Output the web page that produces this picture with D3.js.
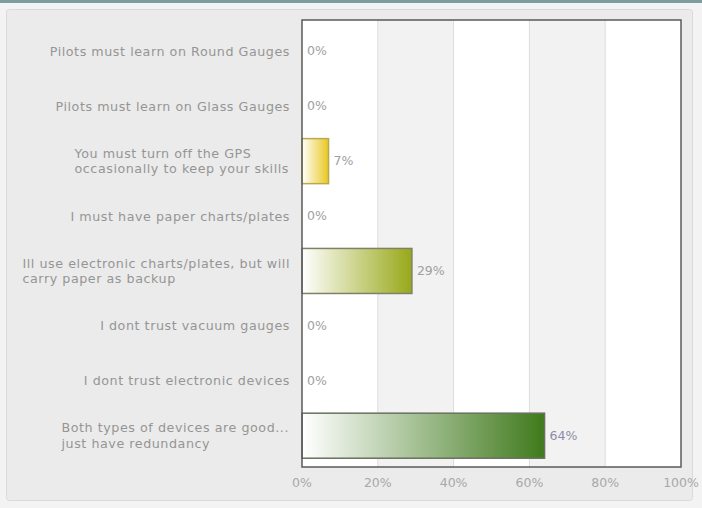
<!DOCTYPE html>
<html><head><meta charset="utf-8">
<script src="https://cdn.jsdelivr.net/npm/d3@7"></script>
<style>body{margin:0;background:#f4f4f4;}svg{display:block;}</style>
</head><body>
<svg id="c" width="702" height="508"></svg>
<script>
const categories = [
  ["Pilots must learn on Round Gauges"],
  ["Pilots must learn on Glass Gauges"],
  ["You must turn off the GPS", "occasionally to keep your skills"],
  ["I must have paper charts/plates"],
  ["Ill use electronic charts/plates, but will", "carry paper as backup"],
  ["I dont trust vacuum gauges"],
  ["I dont trust electronic devices"],
  ["Both types of devices are good...", "just have redundancy"]
];
const values = [0, 0, 7, 0, 29, 0, 0, 64];
const barColors = ["#e8c020", "#e8c020", "#e8c820", "#e8c020", "#98a818", "#98a818", "#98a818", "#3f7a1c"];
const barStrokes = ["#b0a050", "#b0a050", "#b8a850", "#b0a050", "#80806a", "#80806a", "#80806a", "#6a7060"];
const tickValues = [0, 20, 40, 60, 80, 100];

const svg = d3.select("#c");
const font = "DejaVu Sans, Verdana, sans-serif";

// background frame
svg.append("rect").attr("x",0).attr("y",0).attr("width",702).attr("height",508).attr("fill","#f3f3f3");
svg.append("rect").attr("x",0).attr("y",0).attr("width",702).attr("height",3).attr("fill","#7d9e9e");
svg.append("rect").attr("x",6.5).attr("y",9.5).attr("width",686).attr("height",491).attr("rx",3)
  .attr("fill","#ebebeb").attr("stroke","#dadada");

const L = 302, R = 681, T = 20, B = 467;
const x = d3.scaleLinear().domain([0,100]).range([L,R]);
const y = d3.scaleBand().domain(d3.range(categories.length)).range([T,B]).paddingInner(0.18).paddingOuter(0.16);

// plot background with alternating bands
svg.append("rect").attr("x",L).attr("y",T).attr("width",R-L).attr("height",B-T).attr("fill","#ffffff");
svg.selectAll(".band").data(d3.pairs(tickValues).filter((d,i)=>i%2===1)).enter().append("rect")
  .attr("x",d=>x(d[0])).attr("y",T).attr("width",d=>x(d[1])-x(d[0])).attr("height",B-T).attr("fill","#f2f2f2");
svg.selectAll(".grid").data(tickValues.slice(1,-1)).enter().append("line")
  .attr("x1",d=>x(d)).attr("x2",d=>x(d)).attr("y1",T).attr("y2",B).attr("stroke","#dcdcdc");

// gradients
const defs = svg.append("defs");
values.forEach((v,i)=>{
  const g = defs.append("linearGradient").attr("id","g"+i).attr("x1","0%").attr("x2","100%").attr("y1","0%").attr("y2","0%");
  g.append("stop").attr("offset","0%").attr("stop-color","#ffffff");
  g.append("stop").attr("offset","100%").attr("stop-color",barColors[i]);
});

// bars
svg.selectAll(".bar").data(values.map((v,i)=>({v,i})).filter(d=>d.v>0)).enter().append("rect")
  .attr("x",x(0)).attr("y",d=>y(d.i)).attr("width",d=>x(d.v)-x(0)).attr("height",y.bandwidth())
  .attr("fill",d=>"url(#g"+d.i+")").attr("stroke",d=>barStrokes[d.i]).attr("stroke-width",1.5);

// value labels
svg.selectAll(".val").data(values).enter().append("text")
  .attr("x",d=>x(d)+5).attr("y",(d,i)=>y(i)+y.bandwidth()/2+4)
  .attr("font-family",font).attr("font-size",12.5).attr("fill",(d,i)=>i===7?"#8c8ca8":"#a0a0a0")
  .text(d=>d+"%");

// plot border
svg.append("rect").attr("x",L).attr("y",T).attr("width",R-L).attr("height",B-T)
  .attr("fill","none").attr("stroke","#5a5a5a").attr("stroke-width",1.5);

// category labels
categories.forEach((lines,i)=>{
  const cy = y(i)+y.bandwidth()/2;
  const lh = 15.5;
  const t = svg.append("text").attr("font-family",font).attr("font-size",12.7).attr("letter-spacing",0.55).attr("fill","#959595");
  lines.forEach((ln,j)=>{
    t.append("tspan").attr("x",0).attr("y",cy + (j-(lines.length-1)/2)*lh + 4.5).text(ln);
  });
  const w = t.node().getBBox().width;
  t.attr("transform","translate("+(290-w)+",0)");
});

// axis ticks
svg.selectAll(".tick").data(tickValues).enter().append("text")
  .attr("x",d=>x(d)).attr("y",487).attr("text-anchor","middle")
  .attr("font-family",font).attr("font-size",12.5).attr("fill","#a8a8a8")
  .text(d=>d+"%");
</script>
</body></html>
